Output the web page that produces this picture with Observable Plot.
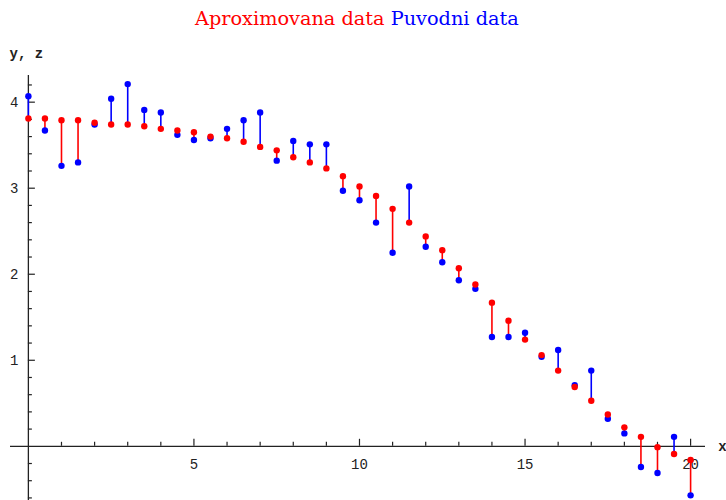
<!DOCTYPE html>
<html>
<head>
<meta charset="utf-8">
<script src="https://cdn.jsdelivr.net/npm/d3@7"></script>
<script src="https://cdn.jsdelivr.net/npm/@observablehq/plot@0.6"></script>
<style>
  body { margin: 0; background: #fff; }
  #wrap { width: 726px; height: 500px; position: relative; overflow: hidden; background: #fff; }
  #title { position: absolute; left: 195px; top: 8px; white-space: nowrap;
           font-family: "DejaVu Serif", serif; font-size: 19.3px; line-height: 22px; }
  #chart { position: absolute; left: 0; top: 40px; }
</style>
</head>
<body>
<div id="wrap">
  <div id="title"><span style="color:#ff0000">Aproximovana data</span> <span style="color:#0000ff">Puvodni data</span></div>
  <div id="chart"></div>
</div>
<script>
// x positions
const xs = [0,0.5,1,1.5,2,2.5,3,3.5,4,4.5,5,5.5,6,6.5,7,7.5,8,8.5,9,9.5,10,
            10.5,11,11.5,12,12.5,13,13.5,14,14.5,15,15.5,16,16.5,17,17.5,18,18.5,19,19.5,20];
// approximated data (red)
const approx = [3.81,3.81,3.79,3.79,3.76,3.74,3.74,3.72,3.69,3.67,3.65,3.60,3.58,3.54,3.48,3.44,3.36,3.30,3.23,3.14,3.02,
                2.91,2.76,2.60,2.44,2.28,2.07,1.88,1.67,1.46,1.24,1.06,0.88,0.69,0.53,0.37,0.22,0.11,-0.01,-0.09,-0.16];
// original data (blue)
const orig = [4.07,3.67,3.26,3.30,3.74,4.04,4.21,3.91,3.88,3.62,3.56,3.58,3.69,3.79,3.88,3.32,3.55,3.51,3.51,2.97,2.86,
              2.60,2.25,3.02,2.32,2.14,1.93,1.83,1.27,1.27,1.32,1.04,1.12,0.71,0.88,0.32,0.15,-0.24,-0.31,0.11,-0.57];

// ticks
const xMajor = [5, 10, 15, 20];
const xMinor = [1,2,3,4,6,7,8,9,11,12,13,14,16,17,18,19];
const yMajor = [1, 2, 3, 4];
const yMinor = [-0.6,-0.4,-0.2,0.2,0.4,0.6,0.8,1.2,1.4,1.6,1.8,2.2,2.4,2.6,2.8,3.2,3.4,3.6,3.8,4.2];
const xAxisLabel = "x";
const yAxisLabel = "y, z";

const RED = "#ff0000", BLUE = "#0000ff", AXIS = "#222222";

const data = xs.map((x, i) => ({x, a: approx[i], o: orig[i]}));

const plot = Plot.plot({
  width: 726,
  height: 460,
  marginTop: 35, marginBottom: 0, marginLeft: 10, marginRight: 21,
  x: {domain: [-0.54, 20.45], axis: null},
  y: {domain: [-0.63, 4.31], axis: null},
  style: {background: "white", overflow: "visible", fontFamily: "Liberation Mono, monospace", fontSize: "14px", color: AXIS},
  marks: [
    Plot.ruleY([0], {stroke: AXIS, strokeWidth: 1.3}),
    Plot.ruleX([0], {stroke: AXIS, strokeWidth: 1.3}),
    Plot.ruleX(xMinor, {x: d => d, y1: 0, y2: 0, insetTop: -4, stroke: AXIS, strokeWidth: 1.2}),
    Plot.ruleX(xMajor, {x: d => d, y1: 0, y2: 0, insetTop: -7, stroke: AXIS, strokeWidth: 1.2}),
    Plot.ruleY(yMinor, {y: d => d, x1: 0, x2: 0, insetRight: -4, stroke: AXIS, strokeWidth: 1.2}),
    Plot.ruleY(yMajor, {y: d => d, x1: 0, x2: 0, insetRight: -7, stroke: AXIS, strokeWidth: 1.2}),
    Plot.text(xMajor, {x: d => d, y: 0, dy: 18, text: d => String(d), fill: AXIS}),
    Plot.text(yMajor, {x: 0, y: d => d, dx: -10, textAnchor: "end", text: d => String(d), fill: AXIS}),
    Plot.text([yAxisLabel], {x: 0, y: 4.31, dx: -2, dy: -22, text: d => d, fill: AXIS, fontWeight: "bold"}),
    Plot.text([xAxisLabel], {x: 20.45, y: 0, dx: 17, text: d => d, fill: AXIS, fontWeight: "bold"}),
    Plot.link(data, {x1: "x", x2: "x", y1: "a", y2: "o",
      stroke: d => (d.a >= d.o ? RED : BLUE), strokeWidth: 1.6}),
    Plot.dot(data, {x: "x", y: "o", r: 3.2, fill: BLUE}),
    Plot.dot(data, {x: "x", y: "a", r: 3.2, fill: RED})
  ]
});
document.getElementById("chart").appendChild(plot);
</script>
</body>
</html>
